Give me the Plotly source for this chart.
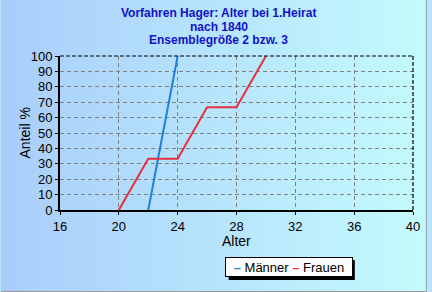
import base64
import plotly.graph_objects as go

# ---- data ----
maenner_alter = [22, 24]
maenner_anteil = [0, 100]
frauen_alter = [20, 22, 24, 26, 28, 30]
frauen_anteil = [0, 33.3, 33.3, 66.7, 66.7, 100]
title_lines = ["Vorfahren Hager: Alter bei 1.Heirat", "nach 1840", "Ensemblegröße 2 bzw. 3"]
x_ticks = [16, 20, 24, 28, 32, 36, 40]
y_ticks = [0, 10, 20, 30, 40, 50, 60, 70, 80, 90, 100]

W, H = 432, 292
L, R, T, B = 60, 14, 56, 82
PW, PH = W - L - R, H - T - B

def px(x):
    return (x - L) / PW

def py(y):
    return 1 - (y - T) / PH

BLUE = "#1e7fdc"
RED = "#e8303c"
FONT = "Liberation Sans, Arial"

fig = go.Figure()
fig.add_trace(go.Scatter(x=maenner_alter, y=maenner_anteil, mode="lines",
                         name="Männer", line=dict(color=BLUE, width=2), showlegend=False))
fig.add_trace(go.Scatter(x=frauen_alter, y=frauen_anteil, mode="lines",
                         name="Frauen", line=dict(color=RED, width=2), showlegend=False))

svg = ('<svg xmlns="http://www.w3.org/2000/svg" width="432" height="292">'
       '<defs><linearGradient id="g" x1="0" y1="0" x2="1" y2="0">'
       '<stop offset="0" stop-color="#a9cdfb"/><stop offset="1" stop-color="#c4fbfd"/>'
       '</linearGradient></defs><rect width="432" height="292" fill="url(#g)"/></svg>')
src = "data:image/svg+xml;base64," + base64.b64encode(svg.encode()).decode()

fig.add_layout_image(dict(source=src, xref="paper", yref="paper",
                          x=px(0), y=py(0), sizex=W / PW, sizey=H / PH,
                          xanchor="left", yanchor="top", sizing="stretch", layer="below"))

shapes = [
    # top and right dashed frame
    dict(type="line", xref="paper", yref="paper", x0=0, x1=1, y0=1, y1=1,
         line=dict(color="black", width=1.2, dash="4px,2px")),
    dict(type="line", xref="paper", yref="paper", x0=1, x1=1, y0=0, y1=1,
         line=dict(color="black", width=1.2, dash="4px,2px")),
    # window border
    dict(type="line", xref="paper", yref="paper", x0=px(0), x1=px(W), y0=py(H - 0.5), y1=py(H - 0.5),
         line=dict(color="#9a9a9a", width=1)),
    dict(type="line", xref="paper", yref="paper", x0=px(W - 0.5), x1=px(W - 0.5), y0=py(0), y1=py(H),
         line=dict(color="#9a9a9a", width=1)),
    # legend shadow
    dict(type="rect", xref="paper", yref="paper", x0=px(231), x1=px(359), y0=py(280), y1=py(260),
         fillcolor="black", line=dict(width=0), layer="above"),
]
fig.update_layout(shapes=shapes)

# title
for i, line in enumerate(title_lines):
    fig.add_annotation(text=f"<b>{line}</b>", xref="paper", yref="paper",
                       x=px(221), y=py(13 + 13.5 * i), xanchor="center", yanchor="middle",
                       showarrow=False, font=dict(family=FONT, size=12, color="#1212c8"))

# axis titles
fig.add_annotation(text="Alter", xref="paper", yref="paper", x=px(239), y=py(241),
                   xanchor="center", yanchor="middle", showarrow=False,
                   font=dict(family=FONT, size=14, color="black"))
fig.add_annotation(text="Anteil %", xref="paper", yref="paper", x=px(25), y=py(133),
                   xanchor="center", yanchor="middle", showarrow=False, textangle=-90,
                   font=dict(family=FONT, size=14, color="black"))

legend_text = (f'<span style="color:{BLUE}"><b>–</b></span> Männer '
               f'<span style="color:{RED}"><b>–</b></span> Frauen')
fig.add_annotation(text=legend_text, xref="paper", yref="paper",
                   x=px(292), y=py(266.5), xanchor="center", yanchor="middle",
                   showarrow=False, bgcolor="white", bordercolor="black", borderwidth=1,
                   width=124, height=16, font=dict(family=FONT, size=13, color="black"))

fig.update_layout(
    width=W, height=H,
    margin=dict(l=L, r=R, t=T, b=B),
    paper_bgcolor="#b6e4fc",
    plot_bgcolor="rgba(0,0,0,0)",
    font=dict(family=FONT, size=13, color="black"),
    xaxis=dict(range=[16, 40], tickvals=x_ticks, showgrid=True, gridcolor="#808080",
               griddash="4px,3px", gridwidth=1, zeroline=False,
               showline=True, linecolor="black", linewidth=2,
               ticks="outside", ticklen=3, tickcolor="black", tickfont=dict(size=13)),
    yaxis=dict(range=[0, 100], tickvals=y_ticks, showgrid=True, gridcolor="#808080",
               griddash="4px,3px", gridwidth=1, zeroline=False,
               showline=True, linecolor="black", linewidth=2,
               ticks="outside", ticklen=3, tickcolor="black", tickfont=dict(size=13)),
)

fig.write_html("out.html")
